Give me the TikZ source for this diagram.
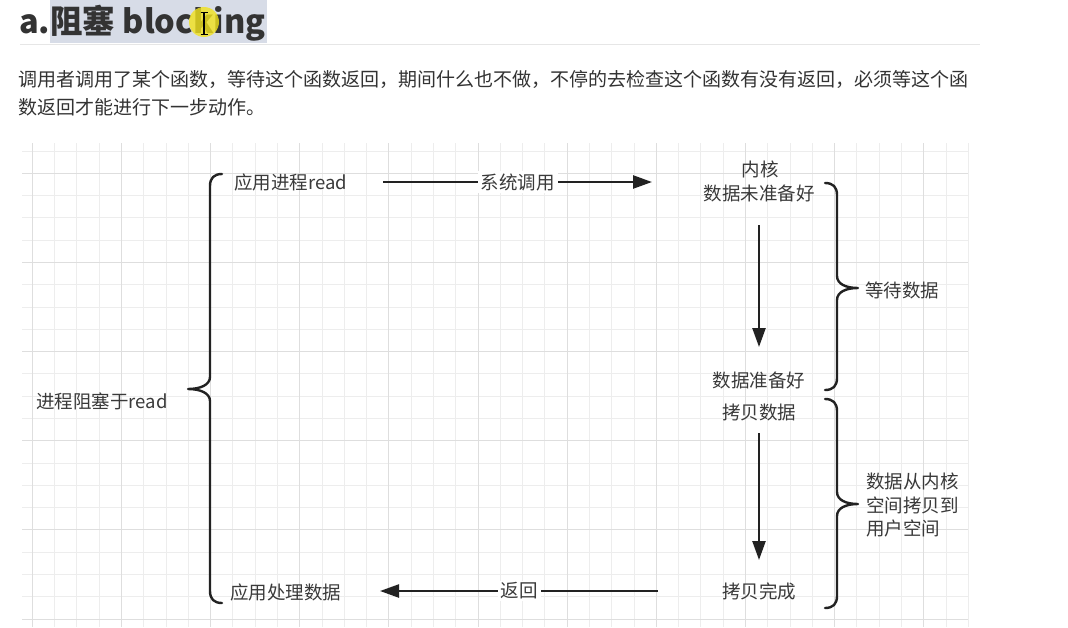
\documentclass[tikz,border=0pt]{standalone}
\usepackage{fontspec}
\setmainfont{Noto Sans CJK SC}
\usetikzlibrary{arrows.meta}
\definecolor{ink}{HTML}{333333}
\definecolor{labelink}{HTML}{3A3A3A}
\definecolor{strokeink}{HTML}{222222}
\definecolor{gridminor}{HTML}{EDEDED}
\definecolor{gridmajor}{HTML}{DEDEDE}
\definecolor{selbg}{HTML}{D7DCE7}
\definecolor{rulegray}{HTML}{E6E6E6}
\definecolor{hilite}{HTML}{F2E21C}

\begin{document}
\begin{tikzpicture}[x=1pt,y=-1pt,
  lbl/.style={inner sep=0pt, text=labelink, font=\fontsize{18.5}{23.4}\selectfont},
  edgelbl/.style={lbl, fill=white, inner xsep=3pt, inner ysep=2pt},
  flow/.style={line width=2.4pt, draw=strokeink, -{Triangle[length=19pt,width=13pt]}},
  bracestroke/.style={line width=2.4pt, draw=strokeink, line cap=round, line join=round},
  gridline/.style={line width=1pt, draw=gridminor},
  gridbold/.style={line width=1pt, draw=gridmajor},
  para/.style={anchor=west, inner sep=0pt, text=ink, font=\fontsize{19}{28}\selectfont},
]
\useasboundingbox (0,0) rectangle (1068,627);
\fill[white] (0,0) rectangle (1068,627);

% ---- heading with selection, pointer halo and text cursor ----
\fill[selbg] (50,0) rectangle (267,43);
\node[anchor=west, inner sep=0pt, text=ink,
      font=\fontsize{32.5}{36}\selectfont\bfseries] (title) at (19,23) {a.阻塞 blocking};
\draw[rulegray, line width=1pt] (20,44) -- (980,44);
\fill[hilite, opacity=0.8] (204,22) circle (15);
\draw[black, line width=1.3pt] (204,12) -- (204,34);
\draw[black, line width=1pt] (200.5,12) -- (207.5,12) (200.5,34) -- (207.5,34);

% ---- description paragraph ----
\node[para] (line1) at (18,79)
  {调用者调用了某个函数，等待这个函数返回，期间什么也不做，不停的去检查这个函数有没有返回，必须等这个函};
\node[para] (line2) at (18,107)
  {数返回才能进行下一步动作。};

% ---- squared paper background ----
\foreach \k in {0,...,42}
  \draw[gridline] ({32.3+\k*22.286},143) -- ({32.3+\k*22.286},627);
\foreach \j in {0,...,21}
  \draw[gridline] (22,{151+\j*22.286}) -- (968.3,{151+\j*22.286});
\foreach \k in {0,4,...,40}
  \draw[gridbold] ({32.3+\k*22.286},143) -- ({32.3+\k*22.286},627);
\foreach \j in {1,5,...,21}
  \draw[gridbold] (22,{151+\j*22.286}) -- (968.3,{151+\j*22.286});

% ---- labels ----
\node[lbl, anchor=west] (app) at (234,182) {应用进程read};
\node[lbl, anchor=west] (blocked) at (36,401) {进程阻塞于read};
\node[lbl] (kern) at (760,169) {内核};
\node[lbl] (notready) at (759,193) {数据未准备好};
\node[lbl] (ready) at (759,380) {数据准备好};
\node[lbl] (copy) at (759,412) {拷贝数据};
\node[lbl] (done) at (759,591) {拷贝完成};
\node[lbl, anchor=west] (handle) at (230,592) {应用处理数据};
\node[lbl, anchor=west] (wait) at (865,290) {等待数据};
\node[lbl, anchor=west, align=left] (kcopy) at (866,505) {数据从内核\\空间拷贝到\\用户空间};

% ---- arrows ----
\coordinate (callfrom) at (383,182);
\coordinate (callto) at (652,182);
\draw[flow] (callfrom) -- node[edgelbl] (syscall) {系统调用} (callto);

\coordinate (waitfrom) at (759,225);
\coordinate (waitto) at (759,347);
\draw[flow] (waitfrom) -- (waitto);

\coordinate (copyfrom) at (759,433);
\coordinate (copyto) at (759,560);
\draw[flow] (copyfrom) -- (copyto);

\coordinate (retfrom) at (658,591);
\coordinate (retto) at (380,591);
\draw[flow] (retfrom) -- node[edgelbl] (ret) {返回} (retto);

% ---- braces ----
% left brace: the process is blocked in read
\draw[bracestroke] (222,174) .. controls (214,174) and (210,178) .. (210,186)
  -- (210,377) .. controls (210,385) and (200,389) .. (188,389)
  .. controls (200,389) and (210,393) .. (210,401)
  -- (210,591) .. controls (210,599) and (214,603) .. (222,603);
% right brace: waiting for data
\draw[bracestroke] (825,183) .. controls (833,183) and (837,187) .. (837,195)
  -- (837,276) .. controls (837,284) and (846,288) .. (858,288)
  .. controls (846,288) and (837,292) .. (837,300)
  -- (837,378) .. controls (837,386) and (833,390) .. (825,390);
% right brace: copying from kernel space to user space
\draw[bracestroke] (825,399) .. controls (833,399) and (837,403) .. (837,411)
  -- (837,492) .. controls (837,500) and (846,504) .. (858,504)
  .. controls (846,504) and (837,508) .. (837,516)
  -- (837,596) .. controls (837,604) and (833,608) .. (825,608);
\end{tikzpicture}
\end{document}
